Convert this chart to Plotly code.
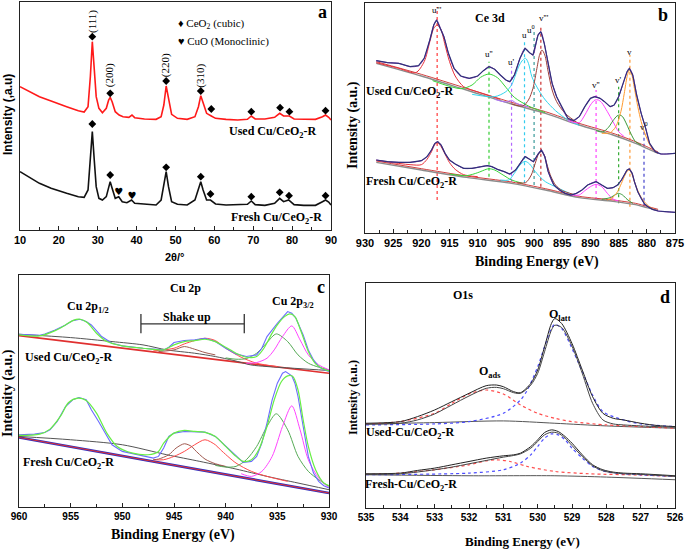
import plotly.graph_objects as go

W, H = 685, 549
SERIF = "Liberation Serif, Times New Roman, serif"
SANS = "Liberation Sans, Arial, sans-serif"

# ================= Panel a : XRD =================
tt_used = [10, 12, 15, 18, 20, 22, 25, 26.5, 27.5, 28.1, 28.6, 29.1, 29.6, 30.3, 31.2, 32.2, 32.8, 33.2, 33.7, 34.5,
           35.5, 36.5, 38, 38.8, 39.5, 42, 45, 46.3, 47.0, 47.6, 48.2, 49, 50.5, 53, 55, 55.9, 56.5, 57.1, 58, 59.2,
           60.3, 63, 66, 68.5, 69.5, 70.5, 73, 75.5, 76.8, 77.8, 79.3, 80.5, 83, 86, 87.8, 88.6, 89.4, 90]
xrd_used = [430, 418, 400, 387, 378, 370, 358, 354, 370, 460, 565, 475, 400, 365, 352, 365, 390, 398, 385, 355,
            345, 340, 338, 345, 337, 333, 332, 340, 375, 432, 390, 347, 335, 332, 340, 370, 403, 380, 350, 342,
            335, 332, 330, 332, 342, 333, 333, 338, 350, 342, 342, 333, 332, 332, 340, 345, 338, 330]
tt_fresh = [10, 12, 15, 18, 20, 22, 25, 26.5, 27.5, 28.1, 28.6, 29.1, 29.6, 30.3, 31.2, 32.2, 32.8, 33.2, 33.7, 34.5,
            35.4, 36.3, 37.5, 38.7, 39.5, 42, 45, 46.3, 47.0, 47.6, 48.2, 49, 50.5, 53, 55, 55.9, 56.5, 57.1, 58, 59.0,
            60.3, 63, 66, 68.5, 69.5, 70.5, 73, 75.5, 76.8, 77.8, 79.1, 80.5, 83, 86, 87.8, 88.6, 89.4, 90]
xrd_fresh = [175, 160, 140, 125, 117, 110, 100, 98, 120, 210, 295, 210, 130, 95, 90, 100, 130, 145, 125, 95,
             100, 85, 82, 90, 80, 77, 75, 90, 130, 175, 130, 85, 77, 75, 90, 120, 145, 120, 90, 90,
             78, 75, 75, 77, 87, 76, 74, 80, 95, 85, 90, 76, 74, 74, 85, 90, 84, 75]
ceo2_used_pos = [28.6, 33.2, 47.6, 56.5, 59.2, 69.5, 76.9, 79.3, 88.6]
ceo2_used_int = [580, 410, 447, 417, 363, 355, 367, 355, 358]
ceo2_fresh_pos = [28.6, 33.2, 47.6, 56.5, 59.0, 69.5, 76.8, 79.2, 88.6]
ceo2_fresh_int = [318, 165, 188, 160, 108, 100, 113, 103, 103]
cuo_fresh_pos = [35.4, 38.8]
cuo_fresh_int = [113, 102]
hkl_labels = ["(111)", "(200)", "(220)", "(310)"]
hkl_pos = [28.6, 33.2, 47.6, 56.5]
hkl_int = [625, 465, 495, 462]
xrd_ticks = [10, 20, 30, 40, 50, 60, 70, 80, 90]

# ================= Panel b : Ce 3d =================
ce_used_E = [928, 926, 924, 922, 920.5, 919.5, 918.5, 917.8, 917.3, 916.6, 916, 915.2, 914.2, 913, 911.5, 910, 909,
             908, 907, 906, 905, 904.3, 903.5, 902.5, 901.6, 900.8, 900.2, 899.3, 898.8, 898.2, 897.5, 896.8, 896,
             895, 894, 893, 892, 891, 890, 889.2, 888.3, 887.5, 886.5, 885.8, 885, 884.2, 883.5, 883.1, 882.5,
             881.8, 881, 880.2, 879.5, 878.5, 877.5, 876.5, 875]
ce_used = [517, 511, 509, 499, 502, 524, 579, 624, 639, 614, 589, 539, 494, 471, 464, 471, 487, 499, 491, 474, 459,
           454, 474, 524, 554, 541, 534, 594, 604, 569, 509, 449, 409, 374, 344, 337, 349, 379, 404, 409, 404, 394,
           379, 384, 409, 449, 484, 494, 474, 414, 359, 314, 269, 244, 237, 237, 239]
ce_bg_E = [928, 920, 912, 904, 898, 892, 886, 882, 880, 878]
ce_used_bg = [509, 471, 429, 387, 359, 324, 294, 269, 254, 239]
ce_used_bg2 = [514, 476, 434, 392, 364, 329, 299, 274, 259, 243]
ce_used_comp = {
    "u'''": ([928, 924, 921, 919.5, 918.5, 917.8, 917.2, 916.5, 915.8, 915, 914, 912.5, 910, 906],
             [511, 494, 481, 514, 574, 614, 624, 609, 564, 514, 471, 439, 423, 401]),
    "u''": ([918, 913, 911, 909.5, 908, 906.5, 905, 903.5, 901, 898],
            [457, 433, 444, 467, 477, 466, 437, 407, 381, 361]),
    "u'": ([907, 905, 904, 903, 901], [401, 393, 398, 388, 378]),
    "u": ([911, 907, 905, 904, 903.3, 902.6, 902, 901.5, 901, 900.4, 899.2, 898, 896.2, 894, 892],
          [416, 409, 424, 444, 474, 504, 519, 524, 509, 469, 429, 399, 367, 339, 323]),
    "v'''": ([904, 902, 901, 900.2, 899.5, 899, 898.6, 898.1, 897.5, 896.8, 896, 894.5, 892],
             [387, 381, 399, 434, 494, 536, 549, 534, 484, 429, 394, 359, 327]),
    "v''": ([894, 892, 891, 890, 889.2, 888.6, 888, 887, 886, 885, 884],
            [337, 331, 354, 384, 399, 399, 391, 364, 334, 304, 289]),
    "v'": ([889, 887.8, 886.8, 886, 885.3, 884.8, 884.3, 883.6, 882.8, 882, 881],
           [307, 303, 317, 337, 351, 354, 349, 327, 297, 274, 264]),
    "v": ([888, 886.5, 885.5, 884.6, 884, 883.5, 883.1, 882.7, 882.2, 881.6, 881, 880.3, 879.3, 878.3],
          [299, 301, 319, 364, 419, 469, 489, 477, 434, 379, 334, 297, 259, 241]),
}
ce_fresh_E = [928, 926, 924, 922, 920, 919, 918.2, 917.6, 917.1, 916.5, 915.8, 915, 914, 912.5, 911, 909.5, 908.3,
              907.5, 906.5, 905.3, 904.3, 903.3, 902.3, 901.6, 900.8, 900.1, 899.3, 898.7, 898.1, 897.5, 896.5,
              895.5, 894.5, 893.5, 892.5, 891.5, 890.5, 889.5, 889, 888, 887, 886, 885.2, 884.5, 884, 883.5, 883.1,
              882.6, 882.2, 881.6, 881, 880.4, 879.8, 879, 878, 877, 876, 875]
ce_fresh = [219, 214, 212, 212, 217, 229, 249, 269, 274, 264, 239, 219, 207, 194, 194, 199, 202, 199, 191, 184, 177,
            189, 214, 229, 221, 214, 237, 249, 229, 184, 144, 129, 119, 114, 119, 129, 144, 152, 154, 144, 134, 136,
            144, 159, 174, 189, 192, 179, 154, 124, 104, 87, 79, 71, 66, 64, 63, 62]
ce_fresh_bg = [212, 189, 167, 149, 129, 106, 95, 85, 76, 68]
ce_fresh_bg2 = [216, 193, 171, 153, 133, 110, 99, 89, 80, 71]
ce_fresh_comp = {
    "u'''": ([928, 922, 920, 919, 918.2, 917.6, 917.1, 916.5, 915.8, 915, 914, 912.5, 910],
             [218, 205, 205, 221, 244, 266, 271, 259, 237, 211, 191, 175, 169]),
    "u''": ([915, 912, 910, 908.5, 908, 907, 905.5, 904, 902],
            [177, 172, 181, 191, 193, 189, 174, 159, 149]),
    "u": ([906, 904.5, 903.5, 902.5, 901.6, 900.8, 900, 899, 898, 896.5, 895, 893],
          [159, 159, 179, 204, 215, 207, 189, 169, 154, 141, 129, 114]),
    "v'''": ([903, 901.5, 900.5, 899.8, 899.2, 898.7, 898.2, 897.6, 897, 896.2, 895, 893],
             [151, 151, 174, 209, 237, 244, 234, 199, 169, 144, 127, 116]),
    "v''": ([893.5, 892, 891, 890, 889, 888, 887, 886, 885],
            [114, 114, 127, 139, 146, 139, 119, 102, 96]),
    "v'": ([888, 886.5, 885.5, 885, 884.3, 883.5, 882.5],
           [101, 106, 116, 119, 114, 101, 89]),
    "v": ([887, 886, 885.2, 884.5, 884, 883.5, 883.1, 882.7, 882.2, 881.6, 881, 880.2, 879.2, 878.5],
          [99, 107, 124, 149, 169, 185, 189, 179, 154, 127, 107, 89, 75, 69]),
}
ce_peak_names = ["u'''", "u''", "u'", "u", "u<sup>0</sup>", "v'''", "v''", "v'", "v", "v<sup>0</sup>"]
ce_peak_E = [917.2, 908, 904, 901.7, 900, 898.8, 889, 885, 883, 880.5]
ce_peak_top = [677, 514, 499, 579, 604, 619, 429, 439, 534, 304]
ce_peak_bottom = [99, 169, 154, 149, 144, 139, 99, 89, 79, 79]
ce_label_E = [917.2, 908, 904, 901.7, 900.5, 898.2, 889, 885, 883, 880.5]
ce_label_int = [669, 536, 514, 594, 612, 645, 444, 459, 544, 321]
ce_ticks = [930, 925, 920, 915, 910, 905, 900, 895, 890, 885, 880, 875]

# ================= Panel c : Cu 2p =================
cu_used_E = [960, 958, 957.5, 956.5, 955.5, 954.8, 954.1, 953.5, 953, 952, 951, 950, 948, 946, 945.5, 945, 944, 943,
             942, 941, 940, 939, 938, 937, 936.5, 936, 935, 934.3, 934, 933.6, 933.2, 932.5, 932, 931.5, 931, 930.5, 930]
cu_used = [519, 516, 520, 532, 547, 560, 564, 557, 547, 512, 492, 484, 477, 472, 480, 494, 500, 502, 507, 497, 477,
           460, 452, 457, 477, 512, 552, 577, 587, 582, 567, 517, 472, 442, 422, 412, 407]
cu_used_fit_E = [960, 958, 956.5, 955.5, 954.8, 954.1, 953.4, 952.5, 951.5, 950, 948, 946, 945, 944, 943, 942, 941,
                 940, 939, 938, 937, 936.3, 935.6, 935, 934.3, 933.8, 933.3, 932.7, 932, 931.3, 930.5, 930]
cu_used_fit = [517, 514, 530, 547, 560, 564, 554, 522, 497, 484, 477, 472, 487, 497, 500, 504, 497, 480, 462, 450,
               452, 477, 517, 547, 572, 580, 572, 527, 467, 430, 414, 409]
cu_used_shirley_E = [960, 955, 951, 948, 945.7, 943, 941, 939.2, 937.6, 936, 933, 930]
cu_used_shirley = [519, 509, 497, 487, 472, 462, 452, 440, 427, 422, 416, 410]
cu_used_linear = [515, 402]
cu_used_comp = {
    "sat1": ([947, 945, 944, 943, 942, 941, 940, 938.5, 937, 935], [469, 477, 490, 500, 507, 500, 477, 450, 432, 422]),
    "sat2": ([946.5, 945, 944, 943, 942, 941], [467, 472, 482, 474, 464, 457]),
    "p1": ([940, 939, 938, 937, 936, 935.1, 934, 933, 932, 931, 930], [448, 444, 446, 462, 494, 520, 497, 457, 432, 420, 412]),
    "p2": ([938, 937, 936, 935.3, 934.5, 933.6, 932.8, 932, 931, 930], [432, 434, 447, 472, 512, 544, 502, 457, 427, 412]),
}
cu_fresh_E = [960, 958.5, 957.5, 957, 956.3, 955.5, 954.8, 954.2, 953.5, 953, 952.3, 951.5, 951, 950, 949, 948, 947,
              946.5, 946, 945.5, 945, 944, 943, 942, 941, 940, 939, 938.3, 937.5, 937, 936.5, 936, 935.5, 935, 934.5,
              934.2, 933.6, 933.3, 933, 932.5, 932, 931.5, 931, 930.5, 930]
cu_fresh = [217, 219, 224, 232, 257, 302, 322, 329, 322, 292, 257, 212, 187, 167, 160, 152, 147, 152, 177, 212, 222,
            227, 225, 225, 212, 182, 152, 134, 137, 152, 192, 252, 322, 372, 402, 407, 394, 372, 332, 242, 152, 102,
            77, 64, 57]
cu_fresh_fit_E = [960, 958, 957, 956, 955.2, 954.3, 953.5, 952.5, 951.5, 950.5, 949, 947.5, 946.5, 946, 945, 944, 943,
                  942, 941, 940, 939, 938.3, 937.5, 936.8, 936, 935.3, 934.6, 934, 933.5, 933, 932.5, 932, 931.3,
                  930.5, 930]
cu_fresh_fit = [215, 219, 234, 272, 314, 327, 320, 282, 222, 182, 162, 157, 167, 192, 222, 230, 227, 224, 212, 182,
                152, 137, 142, 172, 242, 322, 377, 394, 392, 352, 262, 182, 112, 72, 64]
cu_fresh_shirley_E = [960, 955, 950, 945.7, 942.5, 939, 936, 933, 930]
cu_fresh_shirley = [212, 202, 187, 157, 137, 114, 92, 72, 52]
cu_fresh_linear = [209, 42]
cu_fresh_comp = {
    "sat1": ([947, 946, 945, 944, 943, 942, 941, 940.5, 939, 937.5, 936, 934],
             [142, 142, 152, 167, 187, 202, 187, 172, 132, 107, 92, 77]),
    "sat2": ([947, 946.5, 945.5, 944.8, 944, 943.3, 943, 942, 941, 940],
             [142, 144, 157, 177, 190, 182, 172, 144, 130, 122]),
    "p1": ([941, 940, 939, 938, 937, 936, 935.1, 934, 933, 932, 931, 930],
           [125, 120, 122, 142, 182, 242, 280, 232, 152, 107, 82, 62]),
    "p2": ([938.5, 937.5, 936.5, 935.5, 934.5, 933.6, 932.8, 932, 931, 930],
           [100, 92, 107, 152, 242, 304, 232, 142, 87, 57]),
}
cu_ticks = [960, 955, 950, 945, 940, 935, 930]

# ================= Panel d : O 1s =================
o_used_E = [535, 534, 533.5, 533, 532.5, 532, 531.5, 531.2, 531, 530.7, 530.5, 530.2, 530, 529.8, 529.6, 529.5, 529.3,
            529, 528.7, 528.4, 528.1, 527.8, 527.5, 527, 526.5, 526]
o_used = [255, 260, 275, 295, 320, 345, 368, 370, 365, 350, 347, 375, 415, 485, 555, 570, 555, 495, 415, 335, 285,
          270, 265, 255, 248, 245]
o_used_fit_E = [535, 534, 533.5, 533, 532.5, 532, 531.5, 531.2, 531, 530.7, 530.5, 530.2, 530, 529.8, 529.6, 529.5,
                529.3, 529, 528.7, 528.4, 528.1, 527.8, 527.5, 527, 526]
o_used_fit = [252, 255, 265, 283, 310, 337, 360, 363, 359, 347, 345, 370, 405, 470, 535, 550, 543, 487, 405, 315,
              265, 253, 250, 247, 243]
o_used_ads_E = [535, 534, 533, 532.5, 532, 531.5, 531, 530.5, 530, 529.5, 529, 528, 527, 526]
o_used_ads = [253, 260, 285, 315, 343, 355, 343, 310, 285, 270, 260, 250, 245, 240]
o_used_latt_E = [535, 533, 532, 531, 530.5, 530.3, 530, 529.8, 529.6, 529.5, 529.3, 529, 528.7, 528.4, 528.1, 527.5,
                 527, 526]
o_used_latt = [250, 253, 260, 285, 325, 355, 425, 485, 540, 553, 540, 480, 410, 340, 290, 265, 253, 245]
o_used_bg_E = [535, 533, 531, 529.5, 528, 526]
o_used_bg = [253, 257, 262, 255, 247, 240]
o_fresh_E = [535, 534, 533.5, 533, 532.5, 532, 531.5, 531, 530.7, 530.5, 530.2, 530, 529.8, 529.6, 529.4, 529.2, 529,
             528.7, 528.4, 528.1, 527.8, 527.5, 527, 526]
o_fresh = [103, 105, 113, 120, 130, 140, 150, 157, 160, 165, 185, 205, 227, 235, 230, 215, 195, 160, 130, 115, 108,
           105, 103, 97]
o_fresh_fit_E = [535, 534, 533, 532.5, 532, 531.5, 531, 530.7, 530.5, 530.2, 530, 529.8, 529.6, 529.4, 529.2, 529,
                 528.7, 528.4, 528.1, 527.8, 527.5, 527, 526]
o_fresh_fit = [101, 103, 115, 123, 133, 143, 153, 158, 163, 180, 200, 220, 228, 225, 210, 188, 155, 127, 112, 106,
               103, 101, 95]
o_fresh_ads_E = [535, 534, 533, 532, 531.5, 531.2, 530.8, 530.3, 529.5, 528.5, 527, 526]
o_fresh_ads = [101, 105, 115, 130, 142, 145, 140, 125, 110, 103, 99, 95]
o_fresh_latt_E = [535, 532, 531, 530.5, 530.2, 530, 529.8, 529.6, 529.4, 529.2, 529, 528.7, 528.4, 528, 527.5, 526]
o_fresh_latt = [100, 105, 115, 135, 160, 185, 210, 223, 220, 205, 180, 150, 125, 109, 103, 95]
o_fresh_bg_E = [535, 532, 529.5, 528, 526]
o_fresh_bg = [100, 97, 97, 93, 85]
o_ticks = [535, 534, 533, 532, 531, 530, 529, 528, 527, 526]

# ================= figure =================
fig = go.Figure()


def line(x, y, ax, color, width=1.0, dash=None, shape="spline"):
    ln = dict(color=color, width=width, shape=shape)
    if dash:
        ln["dash"] = dash
    if shape == "spline":
        ln["smoothing"] = 0.8
    fig.add_trace(go.Scatter(
        x=x, y=y, mode="lines", xaxis="x" + ax, yaxis="y" + ax, line=ln,
        hoverinfo="skip", showlegend=False))


# ---- a
line(tt_used, xrd_used, "", "#ff1a1a", 1.6, shape="linear")
line(tt_fresh, xrd_fresh, "", "#111111", 1.6, shape="linear")
fig.add_trace(go.Scatter(x=ceo2_used_pos + ceo2_fresh_pos, y=ceo2_used_int + ceo2_fresh_int, mode="markers",
                         marker=dict(symbol="diamond", size=6, color="black"), xaxis="x", yaxis="y",
                         hoverinfo="skip", showlegend=False))
fig.add_trace(go.Scatter(x=cuo_fresh_pos, y=cuo_fresh_int, mode="text", text=["♥"] * len(cuo_fresh_pos),
                         textfont=dict(size=10, color="black", family="DejaVu Sans"), xaxis="x", yaxis="y",
                         hoverinfo="skip", showlegend=False))

# ---- b
comp_colors = {"u'''": "#e8303a", "u''": "#37d437", "u'": "#b070ff", "u": "#33d6ee",
               "v'''": "#a0403a", "v''": "#ff44ff", "v'": "#3a9a3a", "v": "#ff9a2e"}
line_colors_b = ["#ff3b3b", "#33cc33", "#b266ff", "#33ccee", "#3a9a9a", "#cc2f2f", "#ff44ff", "#33aa33",
                 "#ff9933", "#4444cc"]
for E, top, bot, col in zip(ce_peak_E, ce_peak_top, ce_peak_bottom, line_colors_b):
    line([E, E], [bot, top], "2", col, 1.2, dash="dot", shape="linear")
line(ce_bg_E, ce_used_bg, "2", "#8c8c8c", 1.4)
line(ce_bg_E, ce_used_bg2, "2", "#d04040", 1.0)
line(ce_bg_E, ce_fresh_bg, "2", "#8c8c8c", 1.4)
line(ce_bg_E, ce_fresh_bg2, "2", "#d04040", 1.0)
for k, (ex, ey) in ce_used_comp.items():
    line(ex, ey, "2", comp_colors[k], 1.0)
for k, (ex, ey) in ce_fresh_comp.items():
    line(ex, ey, "2", comp_colors[k], 1.0)
line(ce_used_E, ce_used, "2", "#8e3ab5", 1.0)
line(ce_used_E, ce_used, "2", "#30307a", 1.2, shape="linear")
line(ce_fresh_E, ce_fresh, "2", "#8e3ab5", 1.0)
line(ce_fresh_E, ce_fresh, "2", "#30307a", 1.2, shape="linear")

# ---- c
sat_colors = {"sat1": "#ff4a4a", "sat2": "#a05a50", "p1": "#55aa55", "p2": "#ff44ff"}
line([cu_ticks[0], cu_ticks[-1]], cu_used_linear, "3", "#e03030", 1.6, shape="linear")
line(cu_used_shirley_E, cu_used_shirley, "3", "#555555", 1.0)
line([cu_ticks[0], cu_ticks[-1]], cu_fresh_linear, "3", "#3030c0", 2.6, shape="linear")
line([cu_ticks[0], cu_ticks[-1]], cu_fresh_linear, "3", "#e03030", 1.0, shape="linear")
line(cu_fresh_shirley_E, cu_fresh_shirley, "3", "#555555", 1.0)
for k, (ex, ey) in cu_used_comp.items():
    line(ex, ey, "3", sat_colors[k], 1.0)
for k, (ex, ey) in cu_fresh_comp.items():
    line(ex, ey, "3", sat_colors[k], 1.0)
line(cu_used_E, cu_used, "3", "#6b6bff", 1.1, shape="linear")
line(cu_used_fit_E, cu_used_fit, "3", "#66ee44", 1.2)
line(cu_fresh_E, cu_fresh, "3", "#6b6bff", 1.1, shape="linear")
line(cu_fresh_fit_E, cu_fresh_fit, "3", "#66ee44", 1.2)
# shake-up bracket
line([948.2, 938.2], [550, 550], "3", "#333333", 1.3, shape="linear")
line([948.2, 948.2], [522, 580], "3", "#333333", 1.3, shape="linear")
line([938.2, 938.2], [522, 580], "3", "#333333", 1.3, shape="linear")

# ---- d
line(o_used_bg_E, o_used_bg, "4", "#555555", 1.0)
line(o_fresh_bg_E, o_fresh_bg, "4", "#555555", 1.0)
line(o_used_ads_E, o_used_ads, "4", "#ff4d4d", 1.2, dash="dot")
line(o_used_latt_E, o_used_latt, "4", "#4d4dff", 1.2, dash="dot")
line(o_fresh_ads_E, o_fresh_ads, "4", "#ff4d4d", 1.2, dash="dot")
line(o_fresh_latt_E, o_fresh_latt, "4", "#4d4dff", 1.2, dash="dot")
line(o_used_E, o_used, "4", "#222222", 1.0)
line(o_used_fit_E, o_used_fit, "4", "#444444", 1.0)
line(o_fresh_E, o_fresh, "4", "#222222", 1.0)
line(o_fresh_fit_E, o_fresh_fit, "4", "#444444", 1.0)


# ---- axes
def px_dom(a, b, total):
    return [a / total, b / total]


def ydom(top, bottom):
    return [1 - bottom / H, 1 - top / H]


def xax(dom, rng, ticks, minor_dtick, font, anchor, tdir):
    return dict(domain=dom, range=rng, anchor=anchor, showline=True, linecolor="#222", linewidth=1.2, mirror=True,
                ticks=tdir, ticklen=4, tickwidth=1, tickcolor="#222", tickmode="array", tickvals=ticks,
                tickfont=font, showgrid=False, zeroline=False, automargin=False,
                minor=dict(ticks=tdir, ticklen=2.5, dtick=minor_dtick, tickcolor="#222", showgrid=False))


def yax(dom, rng, anchor):
    return dict(domain=dom, range=rng, anchor=anchor, showline=True, linecolor="#222", linewidth=1.2, mirror=True,
                ticks="", showticklabels=False, showgrid=False, zeroline=False, automargin=False)


bold_sans = dict(family=SANS, size=11, color="black", weight="bold")
small_bold_sans = dict(family=SANS, size=10, color="black", weight="bold")
fig.update_layout(
    width=W, height=H, margin=dict(l=0, r=0, t=0, b=0, pad=0), paper_bgcolor="white", plot_bgcolor="white",
    xaxis=xax(px_dom(20, 331, W), [10, 90], xrd_ticks, 5, bold_sans, "y", "inside"),
    yaxis=yax(ydom(2, 230), [0, 684], "x"),
    xaxis2=xax(px_dom(365, 675, W), [930, 875], ce_ticks, 2.5, bold_sans, "y2", "inside"),
    yaxis2=yax(ydom(3, 233), [0, 690], "x2"),
    xaxis3=xax(px_dom(19, 329, W), [960, 930], cu_ticks, 2.5, small_bold_sans, "y3", "inside"),
    yaxis3=yax(ydom(275, 507), [0, 697], "x3"),
    xaxis4=xax(px_dom(366, 675, W), [535, 526], o_ticks, 0.5, small_bold_sans, "y4", "inside"),
    yaxis4=yax(ydom(283, 508), [0, 677], "x4"),
)

ann = []


def txt(x, y, s, ax, size=12, family=SERIF, bold=True, angle=0, xanchor="center", color="black"):
    ann.append(dict(x=x, y=y, xref="x" + ax, yref="y" + ax, text=s, showarrow=False, textangle=angle,
                    xanchor=xanchor, yanchor="middle",
                    font=dict(family=family, size=size, color=color, weight="bold" if bold else "normal")))


def ptxt(px, py, s, size=14, family=SERIF, bold=True, angle=0):
    ann.append(dict(x=px / W, y=1 - py / H, xref="paper", yref="paper", text=s, showarrow=False, textangle=angle,
                    xanchor="center", yanchor="middle",
                    font=dict(family=family, size=size, color="black", weight="bold" if bold else "normal")))


# panel a texts
txt(87.9, 655, "a", "", size=18)
for s, x, y in zip(hkl_labels, hkl_pos, hkl_int):
    txt(x, y, s, "", size=11, bold=False, angle=-90)
txt(50.0, 618, "♦ CeO<sub>2</sub> (cubic)", "", size=11, bold=False, xanchor="left")
txt(50.0, 565, "♥ CuO (Monoclinic)", "", size=11, bold=False, xanchor="left")
txt(75.1, 295, "Used Cu/CeO<sub>2</sub>-R", "", size=12)
txt(76.1, 35, "Fresh Cu/CeO<sub>2</sub>-R", "", size=12)
ptxt(8, 115, "Intensity (,a.u)", size=12, family=SANS, angle=-90)
ptxt(175, 257, "2θ/°", size=11, family=SANS)

# panel b texts
txt(907.8, 644, "Ce 3d", "2", size=12)
txt(877.1, 654, "b", "2", size=18)
txt(922.0, 424, "Used Cu/CeO<sub>2</sub>-R", "2", size=12)
txt(921.7, 154, "Fresh Cu/CeO<sub>2</sub>-R", "2", size=12)
for s, E, y in zip(ce_peak_names, ce_label_E, ce_label_int):
    txt(E, y, s, "2", size=9, bold=False)
ptxt(353, 125, "Intensity (a.u.)", size=14, angle=-90)
ptxt(537, 262, "Binding Energy (eV)", size=14)

# panel c texts
txt(943.9, 657, "Cu 2p", "3", size=12)
txt(930.8, 662, "c", "3", size=18)
txt(953.3, 602, "Cu 2p<sub>1/2</sub>", "3", size=12)
txt(933.5, 617, "Cu 2p<sub>3/2</sub>", "3", size=12)
txt(943.7, 572, "Shake up", "3", size=12)
txt(955.2, 447, "Used Cu/CeO<sub>2</sub>-R", "3", size=12)
txt(955.2, 132, "Fresh Cu/CeO<sub>2</sub>-R", "3", size=12)
ptxt(8, 393, "Intensity (a.u.)", size=14, angle=-90)
ptxt(173, 535, "Binding Energy (eV)", size=14)

# panel d texts
txt(532.17, 640, "O1s", "4", size=12)
txt(526.3, 635, "d", "4", size=18)
txt(529.35, 580, "O<sub>latt</sub>", "4", size=12)
txt(531.4, 410, "O<sub>ads</sub>", "4", size=12)
txt(533.7, 225, "Used-Cu/CeO<sub>2</sub>-R", "4", size=12)
txt(533.7, 70, "Fresh-Cu/CeO<sub>2</sub>-R", "4", size=12)
ptxt(353, 397, "Intensity (a.u.)", size=12, angle=-90)
ptxt(522, 541, "Binding Energy (eV)", size=13)

fig.update_layout(annotations=ann)
fig.write_html("out.html", config={"displayModeBar": False},
               post_script="document.body.style.margin='0';document.body.style.padding='0';")
